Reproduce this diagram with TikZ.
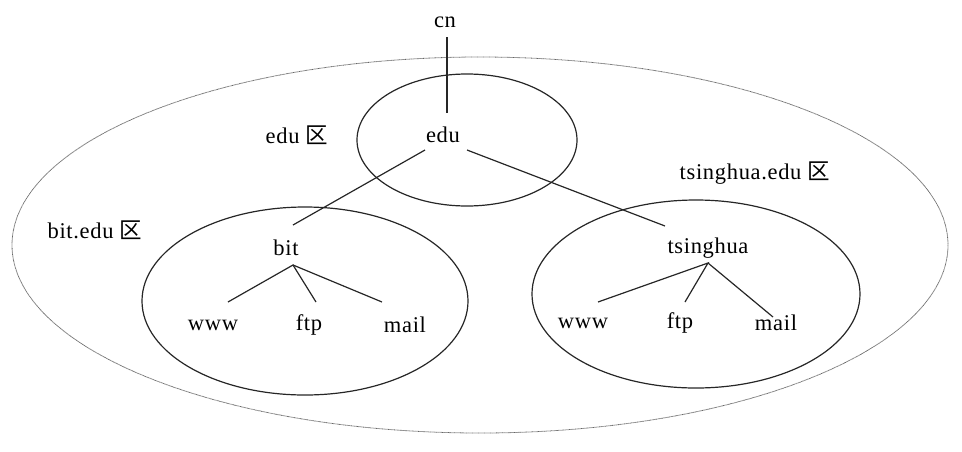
\documentclass[tikz,border=0pt]{standalone}
\usepackage{fontspec}
\setmainfont[LetterSpace=3]{Liberation Serif}
\newfontfamily\cjk{Noto Sans CJK SC}
\begin{document}
\begin{tikzpicture}[x=1pt,y=-1pt,
  lbl/.style={inner sep=0pt, font=\fontsize{22.5}{26}\selectfont},
  zone/.style={draw=black!85, line width=1.2pt},
  outerzone/.style={draw=black!60, line width=0.8pt, dash pattern=on 0.7pt off 0.5pt},
  link/.style={draw=black!85, line width=1.2pt}]
\useasboundingbox (0,0) rectangle (962,451);
% zones
\draw[outerzone] (480,245) ellipse [x radius=468pt, y radius=188pt];
\draw[zone] (467,140) ellipse [x radius=110pt, y radius=66pt];
\draw[zone] (305,301) ellipse [x radius=163pt, y radius=94pt];
\draw[zone] (696,294) ellipse [x radius=164pt, y radius=94pt];
% labels
\node[lbl] (cn) at (445,22) {cn};
\node[lbl] (edu) at (443,135) {edu};
\node[lbl] (eduz) at (297,135) {edu {\cjk 区}};
\node[lbl] (bitz) at (95,230) {bit.edu {\cjk 区}};
\node[lbl] (tsz) at (755,173) {tsinghua.edu {\cjk 区}};
\node[lbl] (bit) at (286,248) {bit};
\node[lbl] (bwww) at (213,325) {www};
\node[lbl] (bftp) at (309,325) {ftp};
\node[lbl] (bmail) at (405,325) {mail};
\node[lbl] (ts) at (708,248) {tsinghua};
\node[lbl] (twww) at (583,323) {www};
\node[lbl] (tftp) at (680,323) {ftp};
\node[lbl] (tmail) at (776,323) {mail};
% connector ends
\coordinate (cnb) at (447,37);
\coordinate (edut) at (447,113);
\coordinate (edul) at (425,150);
\coordinate (edur) at (467,150);
\coordinate (bitt) at (293,225);
\coordinate (tst) at (665,226);
\coordinate (bita) at (293,265);
\coordinate (bwwwt) at (228,302);
\coordinate (bftpt) at (316,302);
\coordinate (bmailt) at (382,302);
\coordinate (tsa) at (708,263);
\coordinate (twwwt) at (598,302);
\coordinate (tftpt) at (685,302);
\coordinate (tmailt) at (773,317);
% connectors
\draw[link] (cnb) -- (edut);
\draw[link] (edul) -- (bitt);
\draw[link] (edur) -- (tst);
\draw[link] (bwwwt) -- (bita) -- (bftpt);
\draw[link] (bita) -- (bmailt);
\draw[link] (twwwt) -- (tsa) -- (tftpt);
\draw[link] (tsa) -- (tmailt);
\end{tikzpicture}
\end{document}
